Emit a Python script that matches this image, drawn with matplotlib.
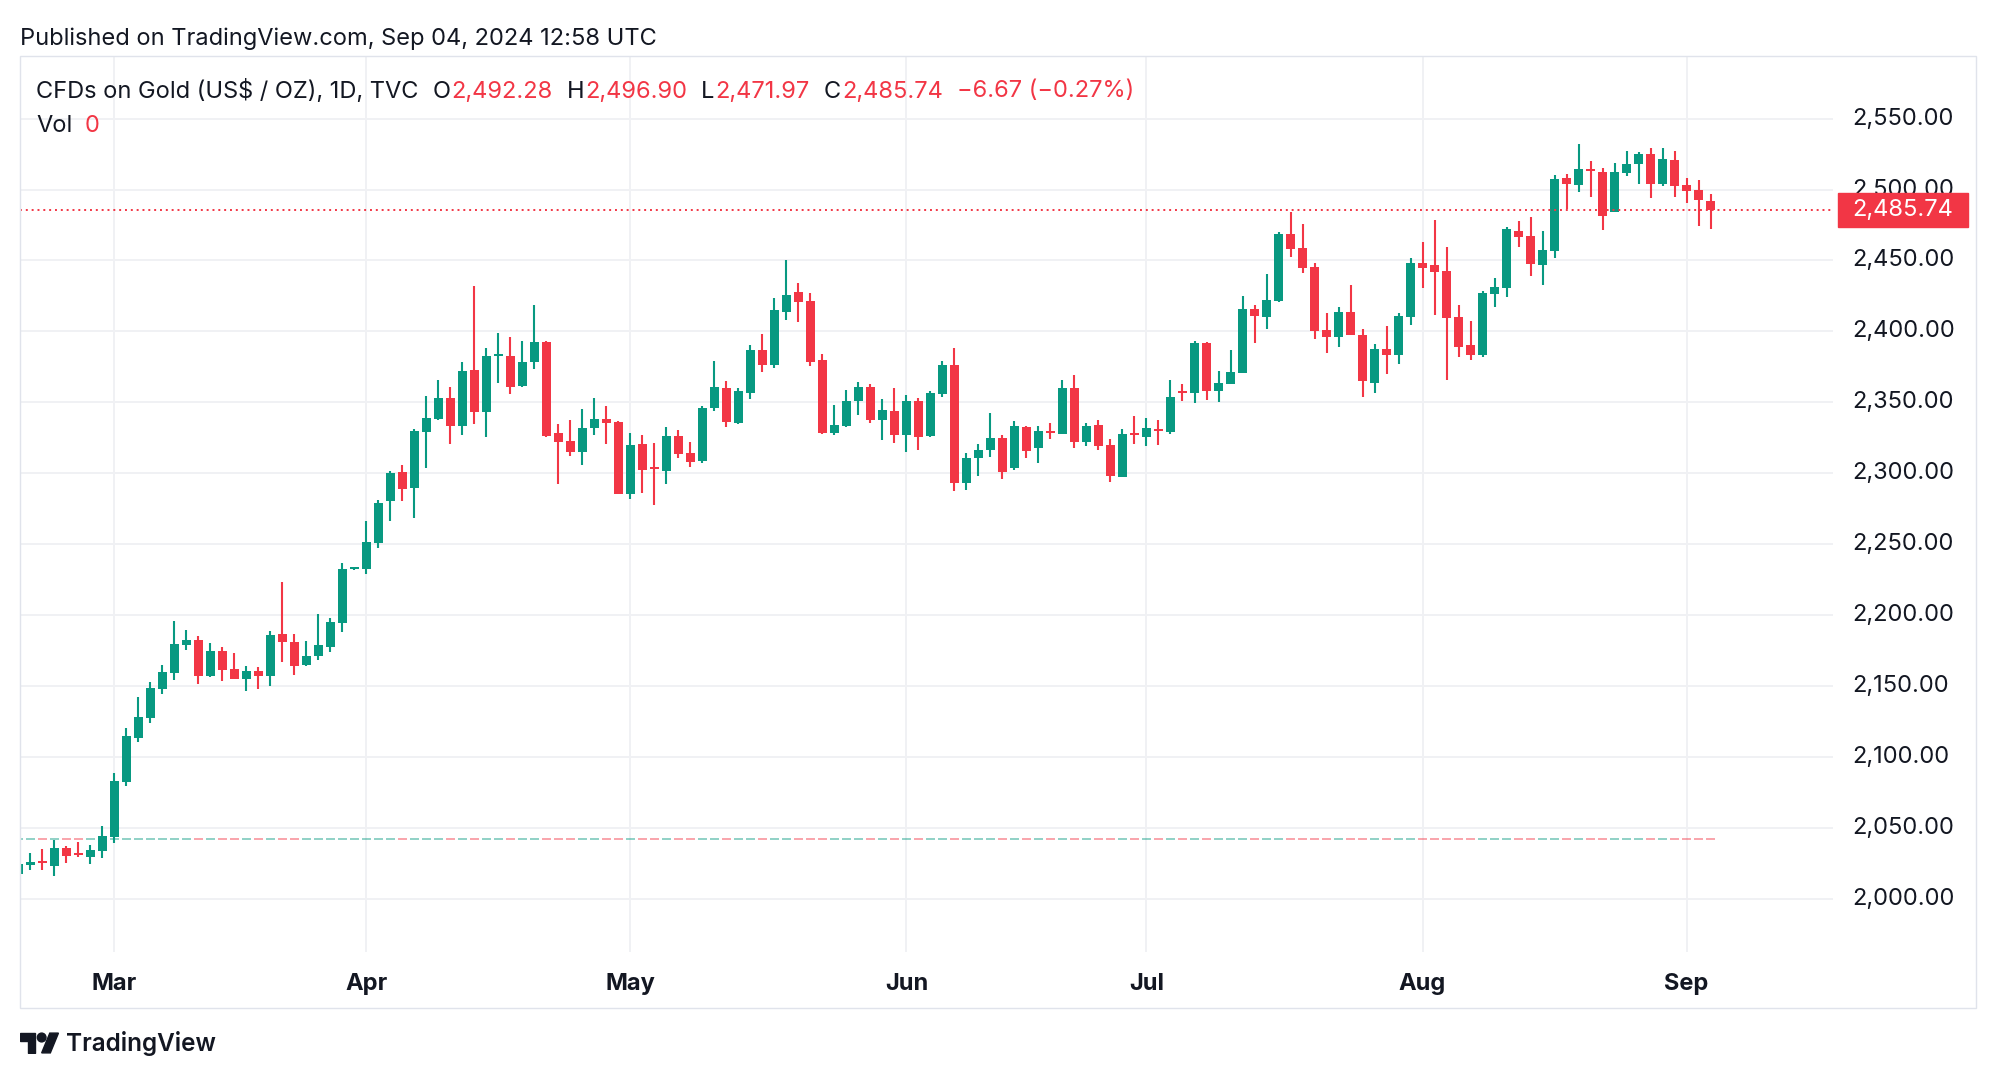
import numpy as np
import pandas as pd
import matplotlib.pyplot as plt
import matplotlib.transforms as mtransforms
from matplotlib.patches import Rectangle, Polygon, Circle

plt.rcParams['font.family'] = ['Inter', 'DejaVu Sans']

# daily bars, TVC gold CFD (weekdays only)
dates = pd.bdate_range('2024-02-20', '2024-09-04')
opens = [2017.6, 2023.9, 2026.7, 2023.2, 2035.7, 2032.4, 2029.5, 2033.8, 2043.6, 2082.5,
         2113.5, 2127.6, 2148.0, 2159.3, 2178.8, 2182.4, 2157.0, 2174.6, 2161.9, 2155.1,
         2160.5, 2157.2, 2186.6, 2181.0, 2165.0, 2171.3, 2177.6, 2194.6, 2232.5, 2232.6,
         2251.0, 2280.6, 2300.8, 2289.5, 2329.3, 2338.4, 2353.0, 2333.0, 2373.0, 2343.4,
         2382.9, 2382.9, 2361.2, 2378.2, 2392.5, 2328.6, 2322.7, 2315.2, 2332.1, 2338.2,
         2336.1, 2285.5, 2320.6, 2304.3, 2301.8, 2326.2, 2314.4, 2308.6, 2346.0, 2360.1,
         2335.6, 2356.8, 2386.9, 2376.5, 2414.0, 2427.8, 2421.5, 2379.8, 2328.6, 2333.6,
         2351.0, 2361.0, 2337.5, 2343.9, 2327.0, 2351.0, 2326.3, 2355.9, 2376.3, 2293.2,
         2310.7, 2316.4, 2324.8, 2303.9, 2332.6, 2318.0, 2329.7, 2327.8, 2360.1, 2321.8,
         2333.9, 2319.9, 2297.5, 2328.6, 2325.7, 2331.2, 2329.3, 2358.2, 2356.8, 2391.8,
         2358.2, 2363.1, 2370.8, 2415.8, 2410.4, 2421.4, 2468.7, 2458.8, 2445.4, 2401.0,
         2396.3, 2413.5, 2397.4, 2363.8, 2387.6, 2383.6, 2410.4, 2448.2, 2446.8, 2442.6,
         2410.2, 2390.4, 2383.4, 2426.4, 2430.6, 2470.8, 2467.3, 2446.8, 2456.7, 2508.2,
         2503.2, 2514.5, 2512.4, 2484.2, 2511.7, 2518.0, 2525.1, 2503.9, 2520.9, 2503.2,
         2499.7, 2492.28]
highs = [2026.0, 2032.2, 2035.0, 2041.3, 2037.1, 2039.9, 2038.0, 2051.4, 2088.6, 2120.3,
         2142.2, 2152.7, 2164.7, 2195.8, 2189.4, 2185.2, 2180.3, 2177.4, 2173.2, 2164.0,
         2163.3, 2188.7, 2223.3, 2186.6, 2181.7, 2200.7, 2197.9, 2236.7, 2234.0, 2266.5,
         2281.2, 2301.5, 2305.8, 2331.1, 2354.4, 2365.7, 2361.0, 2378.6, 2432.2, 2388.5,
         2399.1, 2396.3, 2393.2, 2418.6, 2393.0, 2334.7, 2337.5, 2345.2, 2353.0, 2347.4,
         2336.8, 2328.3, 2326.9, 2321.3, 2332.6, 2330.4, 2322.0, 2347.4, 2379.1, 2365.0,
         2360.1, 2390.4, 2398.2, 2423.5, 2450.4, 2434.1, 2427.1, 2384.0, 2348.2, 2358.7,
         2364.3, 2362.9, 2352.3, 2360.1, 2355.1, 2353.0, 2358.0, 2379.1, 2388.3, 2314.3,
         2320.6, 2342.4, 2327.0, 2336.8, 2333.2, 2333.2, 2335.4, 2365.7, 2369.2, 2335.4,
         2337.5, 2324.1, 2331.2, 2340.3, 2338.9, 2337.5, 2365.7, 2362.9, 2393.2, 2392.5,
         2372.1, 2386.9, 2424.9, 2418.6, 2440.5, 2470.1, 2484.2, 2475.7, 2448.2, 2413.0,
         2417.3, 2432.7, 2401.7, 2391.1, 2403.8, 2413.0, 2451.7, 2463.0, 2478.6, 2459.5,
         2418.6, 2407.3, 2428.5, 2437.6, 2473.6, 2477.8, 2480.7, 2470.8, 2510.3, 2511.0,
         2532.1, 2520.1, 2515.2, 2518.7, 2527.2, 2526.5, 2529.3, 2529.3, 2527.2, 2508.2,
         2506.8, 2496.90]
lows = [2015.5, 2020.2, 2020.2, 2016.2, 2025.3, 2029.3, 2024.4, 2028.6, 2039.4, 2079.4,
        2110.6, 2124.0, 2144.5, 2154.4, 2175.3, 2151.5, 2156.3, 2153.5, 2154.5, 2146.6,
        2148.0, 2150.1, 2167.1, 2157.9, 2164.0, 2168.3, 2174.1, 2188.0, 2232.0, 2229.1,
        2247.5, 2266.5, 2280.6, 2268.4, 2303.7, 2337.5, 2320.3, 2326.7, 2334.9, 2325.3,
        2363.8, 2355.6, 2360.5, 2373.7, 2325.2, 2292.1, 2312.3, 2306.0, 2326.9, 2320.6,
        2285.0, 2282.0, 2286.2, 2277.8, 2292.6, 2310.9, 2304.6, 2307.2, 2343.8, 2332.8,
        2335.0, 2352.5, 2371.6, 2374.4, 2408.3, 2406.6, 2375.9, 2327.9, 2326.7, 2332.8,
        2341.0, 2335.4, 2323.4, 2321.3, 2315.0, 2316.4, 2325.8, 2353.7, 2287.4, 2288.2,
        2298.0, 2311.4, 2295.9, 2302.5, 2310.9, 2307.4, 2324.1, 2327.3, 2317.5, 2318.9,
        2316.6, 2294.0, 2297.0, 2320.4, 2319.4, 2320.1, 2327.8, 2351.0, 2349.7, 2351.8,
        2350.4, 2362.6, 2370.3, 2391.8, 2401.7, 2420.7, 2452.7, 2441.4, 2394.8, 2385.0,
        2389.2, 2397.2, 2353.9, 2356.8, 2370.2, 2377.2, 2404.7, 2430.4, 2411.6, 2365.7,
        2382.0, 2379.8, 2382.0, 2417.2, 2424.3, 2459.5, 2439.1, 2432.7, 2451.7, 2486.3,
        2498.3, 2494.8, 2471.5, 2484.0, 2509.6, 2503.9, 2494.1, 2502.5, 2494.8, 2490.5,
        2474.3, 2471.97]
closes = [2024.2, 2025.8, 2025.3, 2035.7, 2030.2, 2031.0, 2034.3, 2044.4, 2082.9, 2114.7,
          2128.0, 2148.5, 2159.8, 2179.5, 2182.4, 2157.2, 2174.6, 2161.4, 2155.1, 2160.5,
          2157.2, 2185.9, 2181.2, 2164.2, 2171.1, 2178.8, 2195.0, 2232.4, 2233.5, 2251.5,
          2279.0, 2300.1, 2289.0, 2329.7, 2338.9, 2353.0, 2333.0, 2372.3, 2343.4, 2382.9,
          2384.3, 2360.5, 2378.6, 2392.5, 2326.0, 2321.8, 2315.2, 2331.9, 2338.2, 2335.6,
          2285.5, 2319.9, 2302.5, 2303.2, 2326.2, 2313.8, 2308.1, 2346.0, 2361.0, 2336.3,
          2358.0, 2386.9, 2376.5, 2415.1, 2425.7, 2421.0, 2378.7, 2328.6, 2334.1, 2351.0,
          2361.0, 2337.5, 2344.6, 2327.0, 2351.0, 2325.6, 2356.5, 2376.3, 2293.2, 2310.7,
          2316.4, 2324.8, 2301.0, 2333.2, 2315.9, 2329.7, 2328.3, 2360.1, 2321.8, 2333.2,
          2318.9, 2298.2, 2327.6, 2327.1, 2331.9, 2329.5, 2353.7, 2356.8, 2391.8, 2358.2,
          2363.6, 2371.4, 2415.8, 2411.1, 2422.1, 2468.7, 2458.3, 2444.9, 2400.5, 2396.3,
          2413.8, 2397.7, 2365.2, 2387.6, 2383.6, 2410.9, 2448.2, 2444.6, 2441.9, 2409.4,
          2389.0, 2383.4, 2427.1, 2431.3, 2472.2, 2466.6, 2447.8, 2457.4, 2507.5, 2503.9,
          2514.5, 2513.1, 2481.4, 2512.4, 2518.0, 2525.1, 2503.9, 2521.6, 2502.5, 2499.0,
          2492.41, 2485.74]
volume_base = 2042.2  # zero-volume bars sit on this level
price_ticks = list(range(2000, 2551, 50))

GREEN = '#089981'
RED = '#F23645'
TEXT = '#131722'
FS = 17

o = np.array(opens); h = np.array(highs); l = np.array(lows); c = np.array(closes)
x = np.arange(len(dates))
up = c >= o
colors = np.where(up, GREEN, RED)

W, H = 1996, 1078
fig = plt.figure(figsize=(W / 100, H / 100), dpi=100)
ax = fig.add_axes([20 / W, 1 - 952 / H, (1833 - 20) / W, (952 - 56) / H])
ax.set_xlim(0.14, 151.2)
ax.set_ylim(1962.3, 2594.2)

# zero volume overlay
vol_colors = [(8/255, 153/255, 129/255, 0.45) if u else (242/255, 54/255, 69/255, 0.45) for u in up]
ax.hlines([volume_base] * len(x), x - 0.4, x + 0.4, colors=vol_colors, lw=1.4, zorder=2)

# candles
ax.vlines(x, l, h, colors=colors, lw=1.5, zorder=3)
body = np.abs(c - o)
mid = (c + o) / 2
bh = np.maximum(body, 1.3)
ax.bar(x, bh, bottom=mid - bh / 2, width=0.78, color=colors, linewidth=0, zorder=4)

# last price line
ax.axhline(c[-1], color=RED, lw=1.4, linestyle=(0, (1, 2)), zorder=5)

# grid / axes
month_pos = [i for i in range(1, len(dates)) if dates[i].month != dates[i - 1].month]
ax.set_xticks(month_pos)
ax.set_xticklabels([dates[i].strftime('%b') for i in month_pos], fontweight='bold')
ax.set_yticks(price_ticks)
ax.set_yticklabels([f'{v:,.2f}' for v in price_ticks], va='center')
ax.yaxis.tick_right()
ax.tick_params(axis='y', length=0, pad=13.5, labelsize=FS, labelcolor=TEXT)
ax.tick_params(axis='x', length=0, pad=15, labelsize=FS, labelcolor=TEXT)
ax.grid(True, color='#F0F1F4', lw=1.4, zorder=0)
ax.set_axisbelow(True)
for s in ax.spines.values():
    s.set_visible(False)

fig.add_artist(Rectangle((20 / W, 1 - 1008 / H), (1976 - 20) / W, (1008 - 56) / H,
                         transform=fig.transFigure, fill=False, ec='#E0E3EB', lw=1))

# last price label on the scale
trans = mtransforms.blended_transform_factory(fig.transFigure, ax.transData)
ax.add_artist(Rectangle((1838 / W, c[-1] - 12), (1968 - 1838) / W, 24, transform=trans,
                        color=RED, clip_on=False, zorder=6))
ax.text(1852 / W, c[-1], f'{c[-1]:,.2f}', transform=trans, color='white', fontsize=FS,
        va='center', ha='left', zorder=7, clip_on=False)

# header
renderer = fig.canvas.get_renderer()

def ftext(px, py, s, color=TEXT, size=FS, **kw):
    t = fig.text(px / W, 1 - py / H, s, color=color, fontsize=size, va='center', ha='left', **kw)
    return t.get_window_extent(renderer).x1

ftext(20, 38.5, 'Published on TradingView.com, Sep 04, 2024 12:58 UTC')
end = ftext(36, 91.5, 'CFDs on Gold (US$ / OZ), 1D, TVC')
chg = c[-1] - c[-2]
items = [('O', o[-1]), ('H', h[-1]), ('L', l[-1]), ('C', c[-1])]
for key, val in items:
    end = ftext(end + 14, 91.5, key)
    end = ftext(end + 1, 91.5, f'{val:,.2f}', RED)
ftext(end + 14, 91.5, f'\u2212{abs(chg):.2f} (\u2212{abs(chg) / c[-2] * 100:.2f}%)', RED)
end = ftext(36, 126.5, 'Vol')
ftext(end + 12, 126.5, '0', RED)

# TradingView logo
lax = fig.add_axes([20 / W, 1 - 1054 / H, 39 / W, 22 / H])
lax.set_xlim(0, 36)
lax.set_ylim(23, 3)
lax.axis('off')
lax.add_patch(Polygon([(14, 22), (7, 22), (7, 11), (0, 11), (0, 4), (14, 4)], color=TEXT))
lax.add_patch(Polygon([(28, 22), (20, 22), (27.5, 4), (35.5, 4)], color=TEXT))
lax.add_patch(Circle((20, 8), 4, color=TEXT))
ftext(66, 1043, 'TradingView', size=17.5, fontweight='semibold')

fig.savefig('out.png', dpi=100, facecolor='white')
